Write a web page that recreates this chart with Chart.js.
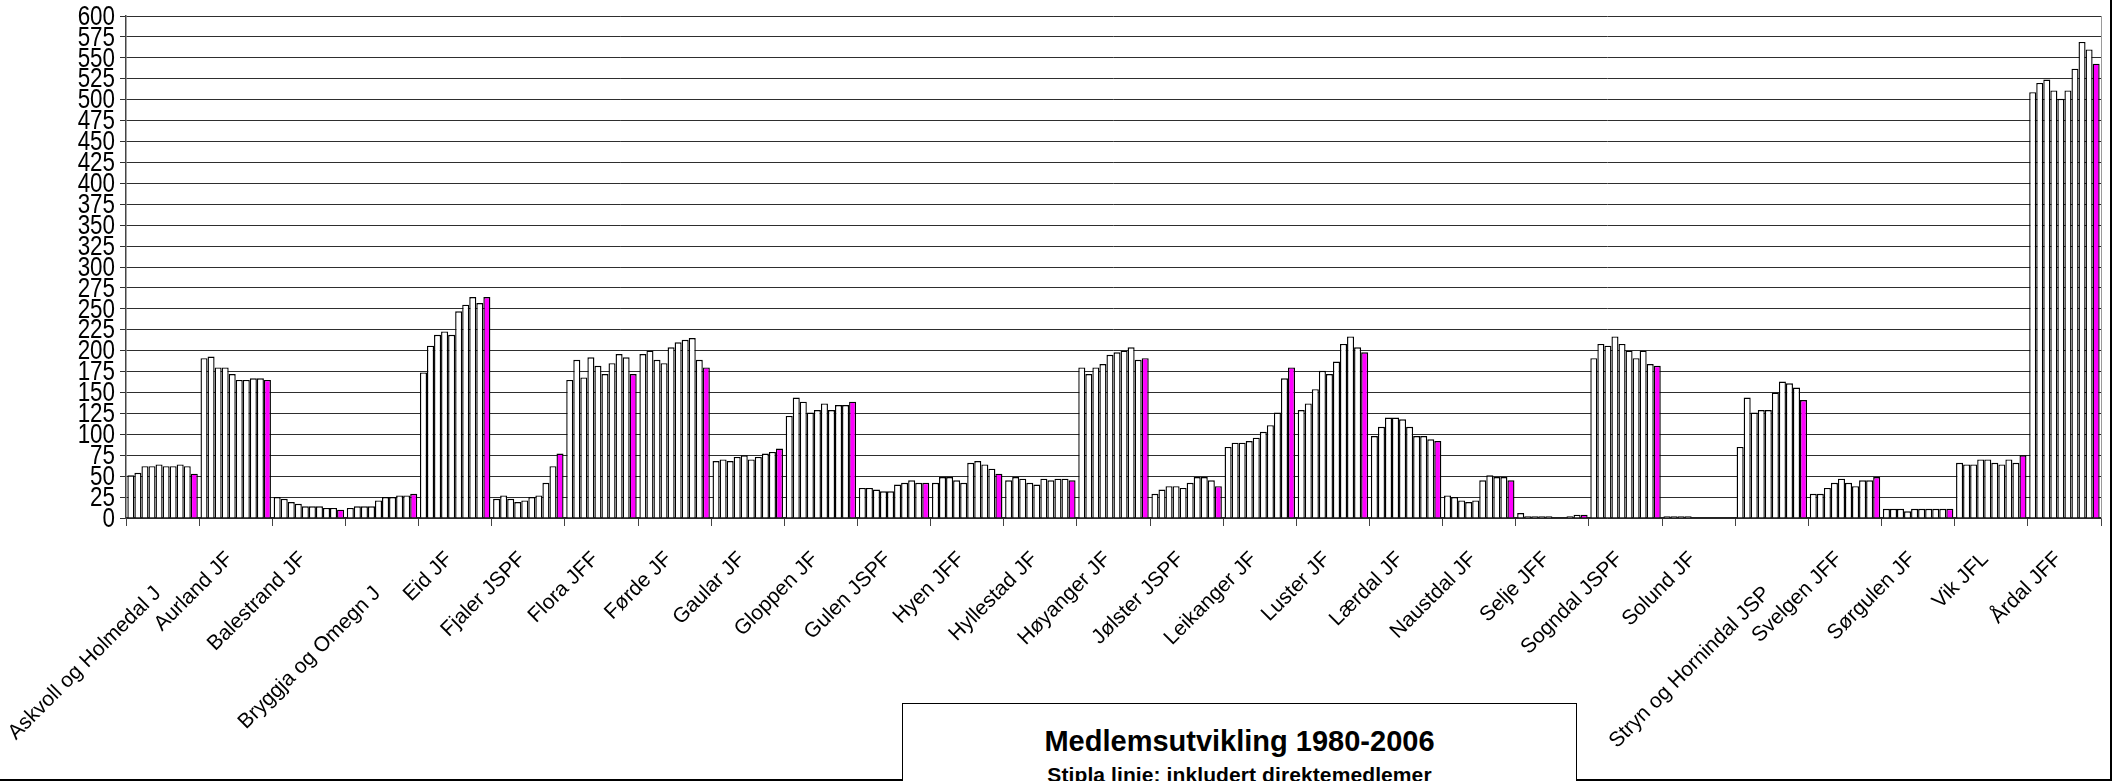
<!DOCTYPE html>
<html>
<head>
<meta charset="utf-8">
<title>Medlemsutvikling 1980-2006</title>
<script src="https://cdn.jsdelivr.net/npm/chart.js@4.4.1/dist/chart.umd.min.js"></script>
<style>
    body { margin: 0; background: #fff; }
    #wrap { position: relative; width: 2118px; height: 781px; overflow: hidden; background: #fff; }
    #titleBox {
        position: absolute; left: 902px; top: 703px; width: 675px; height: 120px;
        box-sizing: border-box; border: 1.5px solid #000; border-bottom: none; background: #fff;
        font-family: 'Liberation Sans', Arial, sans-serif; font-weight: bold; color: #000;
    }
    #titleBox .t1 { position: absolute; top: 23px; width: 100%; text-align: center; font-size: 29px; line-height: 29px; }
    #titleBox .t2 { position: absolute; top: 60px; width: 100%; text-align: center; font-size: 21px; line-height: 21px; letter-spacing: 0.1px; }
</style>
</head>
<body>
<div id="wrap">
    <canvas id="medlemChart" width="2118" height="781"></canvas>
    <div id="titleBox">
        <div class="t1">Medlemsutvikling 1980-2006</div>
        <div class="t2">Stipla linje: inkludert direktemedlemer</div>
    </div>
</div>
<script>
// lag (labels are clipped in the original, kept as shown)
const lag = [
    'Askvoll og Holmedal J', 'Aurland JF', 'Balestrand JF', 'Bryggja og Omegn J', 'Eid JF',
    'Fjaler JSPF', 'Flora JFF', 'Førde JF', 'Gaular JF', 'Gloppen JF', 'Gulen JSPF',
    'Hyen JFF', 'Hyllestad JF', 'Høyanger JF', 'Jølster JSPF', 'Leikanger JF', 'Luster JF',
    'Lærdal JF', 'Naustdal JF', 'Selje JFF', 'Sogndal JSPF', 'Solund JF',
    'Stryn og Hornindal JSP', 'Svelgen JFF', 'Sørgulen JF', 'Vik JFL', 'Årdal JFF'
];

const aar = ['1980', '1985', '1990', '1995', '2000', '2001', '2002', '2003', '2004', '2006'];

// medlemstal per år, i same rekkjefølgje som lag
const m1980 = [51, 191, 25, 12, 174, 23, 165, 196, 68, 122, 36, 42, 45, 180, 29, 85, 129, 98, 27, 6, 191, 2, 85, 29, 11, 66, 509];
const m1985 = [54, 193, 23, 14, 206, 27, 189, 200, 70, 144, 36, 49, 49, 172, 34, 90, 137, 109, 25, 2, 208, 2, 144, 29, 11, 64, 520];
const m1990 = [62, 180, 19, 14, 219, 23, 168, 189, 68, 139, 34, 49, 47, 180, 38, 90, 154, 120, 21, 2, 206, 2, 126, 36, 11, 64, 524];
const m1995 = [62, 180, 17, 14, 223, 19, 192, 185, 73, 126, 32, 45, 42, 184, 38, 92, 176, 120, 19, 2, 217, 2, 129, 42, 8, 70, 511];
const m2000 = [64, 172, 14, 21, 219, 21, 182, 204, 75, 129, 32, 42, 40, 195, 36, 96, 172, 118, 21, 2, 208, 0, 129, 47, 11, 70, 501];
const m2001 = [62, 165, 14, 25, 247, 25, 172, 210, 70, 137, 40, 66, 47, 198, 42, 103, 187, 109, 45, 0, 200, 0, 150, 42, 11, 66, 511];
const m2002 = [62, 165, 14, 25, 255, 27, 185, 213, 73, 129, 42, 68, 45, 200, 49, 111, 208, 98, 51, 0, 191, 0, 163, 38, 11, 64, 537];
const m2003 = [64, 167, 12, 27, 264, 42, 196, 215, 77, 135, 45, 64, 47, 204, 49, 126, 217, 98, 49, 2, 200, 0, 161, 45, 11, 70, 569];
const m2004 = [62, 167, 12, 27, 257, 62, 192, 189, 79, 135, 42, 59, 47, 189, 45, 167, 204, 94, 49, 4, 184, 0, 156, 45, 11, 66, 560];
const m2006 = [53, 165, 10, 29, 264, 77, 172, 180, 83, 139, 42, 53, 45, 191, 38, 180, 198, 92, 45, 4, 182, 0, 141, 49, 11, 75, 543];

const serier = [m1980, m1985, m1990, m1995, m2000, m2001, m2002, m2003, m2004, m2006];

const yMin = 0;
const yMax = 600;
const yStep = 25;

// right edge of the plot + outer frame
const framePlugin = {
    id: 'frame',
    afterDraw(chart) {
        const { ctx, chartArea: a } = chart;
        ctx.save();
        ctx.strokeStyle = '#9a9a9a';
        ctx.lineWidth = 1;
        ctx.beginPath();
        ctx.moveTo(a.right + 0.5, a.top);
        ctx.lineTo(a.right + 0.5, a.bottom);
        ctx.stroke();

        ctx.strokeStyle = '#000';
        ctx.lineWidth = 2;
        ctx.beginPath();
        ctx.moveTo(0, 780);
        ctx.lineTo(2111, 780);
        ctx.lineTo(2111, 0);
        ctx.stroke();
        ctx.restore();
    }
};

// the original y labels are a tall narrow face; no narrow font here, so squeeze it
const yLabelPlugin = {
    id: 'yLabels',
    afterDraw(chart) {
        const scale = chart.scales.y;
        const ctx = chart.ctx;
        ctx.save();
        ctx.fillStyle = '#000';
        ctx.font = "28px 'Liberation Sans', Arial, sans-serif";
        ctx.textAlign = 'right';
        ctx.textBaseline = 'middle';
        scale.ticks.forEach(t => {
            const y = scale.getPixelForValue(t.value);
            ctx.save();
            ctx.translate(scale.right - 11, y + 1);
            ctx.scale(0.8, 1);
            ctx.fillText(String(t.value), 0, 0);
            ctx.restore();
        });
        ctx.restore();
    }
};

// long names were cut off and sit lower in the original: push them down a bit
function tickLabel(navn) {
    return navn.length > 15 ? ['', navn + '    '] : navn;
}

function buildDatasets() {
    return serier.map((verdiar, i) => {
        const siste = i === serier.length - 1;
        return {
            label: aar[i],
            data: verdiar,
            backgroundColor: siste ? '#ff00ff' : '#ffffff',
            borderColor: '#000000',
            borderWidth: 1.4,
            borderSkipped: 'start',
            categoryPercentage: 0.963,
            barPercentage: 1.0
        };
    });
}

const ctx = document.getElementById('medlemChart').getContext('2d');

new Chart(ctx, {
    type: 'bar',
    data: {
        labels: lag.map(tickLabel),
        datasets: buildDatasets()
    },
    options: {
        responsive: false,
        animation: false,
        devicePixelRatio: 1,
        layout: { padding: { top: 16, right: 17, left: 0, bottom: 0 } },
        plugins: {
            legend: { display: false },
            title: { display: false },
            tooltip: { enabled: false }
        },
        scales: {
            x: {
                grid: {
                    offset: true,
                    drawOnChartArea: false,
                    tickLength: 8,
                    color: '#444'
                },
                border: { color: '#222', width: 1.5 },
                ticks: {
                    autoSkip: false,
                    minRotation: 45,
                    maxRotation: 45,
                    padding: 21,
                    labelOffset: -6,
                    color: '#000',
                    font: { family: "'Liberation Sans', Arial, sans-serif", size: 21 }
                },
                afterFit(scale) {
                    scale.height = 263;
                    scale.paddingLeft = 0;
                    scale.paddingRight = 0;
                }
            },
            y: {
                min: yMin,
                max: yMax,
                grid: {
                    color: '#2e2e2e',
                    tickLength: 6
                },
                border: { color: '#444', width: 1.5 },
                ticks: {
                    stepSize: yStep,
                    autoSkip: false,
                    display: false
                },
                afterFit(scale) {
                    scale.width = 126;
                    scale.paddingTop = 0;
                    scale.paddingBottom = 0;
                }
            }
        }
    },
    plugins: [framePlugin, yLabelPlugin]
});
</script>
</body>
</html>
